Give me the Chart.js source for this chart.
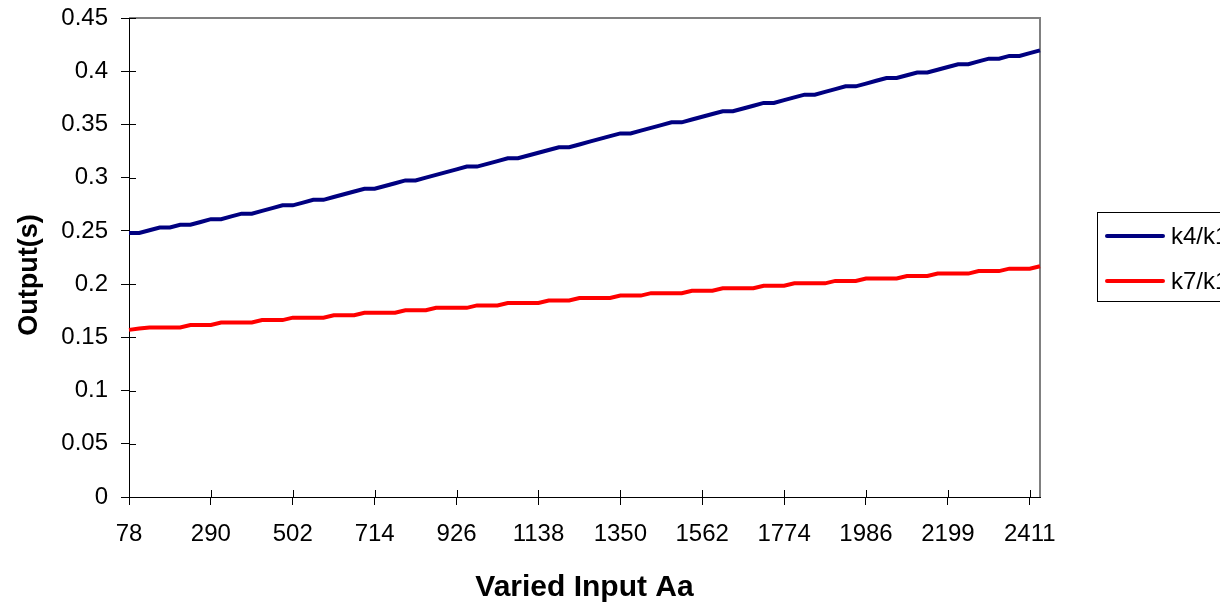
<!DOCTYPE html>
<html>
<head>
<meta charset="utf-8">
<script src="https://cdn.jsdelivr.net/npm/chart.js@4.4.1/dist/chart.umd.min.js"></script>
<style>
  body { margin: 0; background: #fff; }
  #wrap { width: 1220px; height: 603px; }
</style>
</head>
<body>
<div id="wrap"><canvas id="myChart" width="1220" height="603"></canvas></div>
<script>
// x categories (Varied Input Aa), only every 8th is labelled on the axis
const inputAa = [
  78, 105, 131, 158, 184, 211, 237, 264, 290, 317,
  343, 370, 396, 423, 449, 476, 502, 529, 555, 582,
  608, 635, 661, 688, 714, 741, 767, 794, 820, 847,
  873, 900, 926, 953, 979, 1006, 1032, 1059, 1085, 1112,
  1138, 1165, 1191, 1218, 1244, 1271, 1297, 1324, 1350, 1377,
  1403, 1430, 1456, 1483, 1509, 1536, 1562, 1589, 1615, 1642,
  1668, 1695, 1721, 1748, 1774, 1801, 1827, 1854, 1880, 1907,
  1933, 1960, 1986, 2013, 2039, 2066, 2093, 2119, 2146, 2172,
  2199, 2225, 2252, 2278, 2305, 2331, 2358, 2384, 2411, 2437
];

// k4/k1
const k4k1 = [
  0.2480, 0.2480, 0.2506, 0.2532, 0.2532, 0.2558, 0.2558, 0.2584, 0.2610, 0.2610,
  0.2636, 0.2662, 0.2662, 0.2688, 0.2714, 0.2740, 0.2740, 0.2766, 0.2792, 0.2792,
  0.2818, 0.2844, 0.2870, 0.2896, 0.2896, 0.2922, 0.2948, 0.2974, 0.2974, 0.3000,
  0.3026, 0.3052, 0.3078, 0.3104, 0.3104, 0.3130, 0.3156, 0.3182, 0.3182, 0.3208,
  0.3234, 0.3260, 0.3286, 0.3286, 0.3312, 0.3338, 0.3364, 0.3390, 0.3416, 0.3416,
  0.3442, 0.3468, 0.3494, 0.3520, 0.3520, 0.3546, 0.3572, 0.3598, 0.3624, 0.3624,
  0.3650, 0.3676, 0.3702, 0.3702, 0.3728, 0.3754, 0.3780, 0.3780, 0.3806, 0.3832,
  0.3858, 0.3858, 0.3884, 0.3910, 0.3936, 0.3936, 0.3962, 0.3988, 0.3988, 0.4014,
  0.4040, 0.4066, 0.4066, 0.4092, 0.4118, 0.4118, 0.4144, 0.4144, 0.4170, 0.4196
];

// k7/k1
const k7k1 = [
  0.1570, 0.1582, 0.1593, 0.1593, 0.1593, 0.1593, 0.1616, 0.1616, 0.1616, 0.1639,
  0.1639, 0.1639, 0.1639, 0.1662, 0.1662, 0.1662, 0.1685, 0.1685, 0.1685, 0.1685,
  0.1708, 0.1708, 0.1708, 0.1731, 0.1731, 0.1731, 0.1731, 0.1754, 0.1754, 0.1754,
  0.1777, 0.1777, 0.1777, 0.1777, 0.1800, 0.1800, 0.1800, 0.1823, 0.1823, 0.1823,
  0.1823, 0.1846, 0.1846, 0.1846, 0.1869, 0.1869, 0.1869, 0.1869, 0.1892, 0.1892,
  0.1892, 0.1915, 0.1915, 0.1915, 0.1915, 0.1938, 0.1938, 0.1938, 0.1961, 0.1961,
  0.1961, 0.1961, 0.1984, 0.1984, 0.1984, 0.2007, 0.2007, 0.2007, 0.2007, 0.2030,
  0.2030, 0.2030, 0.2053, 0.2053, 0.2053, 0.2053, 0.2076, 0.2076, 0.2076, 0.2099,
  0.2099, 0.2099, 0.2099, 0.2122, 0.2122, 0.2122, 0.2145, 0.2145, 0.2145, 0.2168
];

const seriesNames = ['k4/k1', 'k7/k1'];
const xTitle = 'Varied Input Aa';
const yTitle = 'Output(s)';
const yMax = 0.45;
const yStep = 0.05;

const FONT = '"Liberation Sans", Arial, sans-serif';

// legend with a box, like the Excel one
const boxLegend = {
  id: 'boxLegend',
  afterDraw: (chart) => {
    let ctx = chart.ctx;
    ctx.save();
    ctx.strokeStyle = '#000';
    ctx.lineWidth = 1;
    ctx.strokeRect(1097.5, 212.5, 200, 89);
    chart.data.datasets.forEach((ds, i) => {
      let y = 236 + i * 45;
      ctx.beginPath();
      ctx.moveTo(1107, y);
      ctx.lineTo(1163, y);
      ctx.strokeStyle = ds.borderColor;
      ctx.lineWidth = 4;
      ctx.lineCap = 'round';
      ctx.stroke();
      ctx.fillStyle = '#000';
      ctx.font = '24px ' + FONT;
      ctx.textBaseline = 'middle';
      ctx.fillText(ds.label, 1171, y + 1);
    });
    ctx.restore();
  }
};

// axis titles (placed like Excel did)
const axisTitles = {
  id: 'axisTitles',
  afterDraw: (chart) => {
    let ctx = chart.ctx;
    let a = chart.chartArea;
    ctx.save();
    ctx.fillStyle = '#000';
    ctx.textAlign = 'center';
    ctx.textBaseline = 'middle';
    ctx.font = 'bold 30px ' + FONT;
    ctx.fillText(xTitle, (a.left + a.right) / 2, 588);
    ctx.font = 'bold 27px ' + FONT;
    ctx.translate(30, 275);
    ctx.rotate(-Math.PI / 2);
    ctx.fillText(yTitle, 0, 0);
    ctx.restore();
  }
};

// grey plot border top/right + tick marks crossing the axes
const plotFrame = {
  id: 'plotFrame',
  beforeDatasetsDraw: (chart) => {
    let ctx = chart.ctx;
    let a = chart.chartArea;
    ctx.save();
    ctx.strokeStyle = '#808080';
    ctx.lineWidth = 2;
    ctx.beginPath();
    ctx.moveTo(a.left, a.top);
    ctx.lineTo(a.right, a.top);
    ctx.lineTo(a.right, a.bottom);
    ctx.stroke();

    ctx.strokeStyle = '#000';
    ctx.lineWidth = 1;
    ctx.beginPath();
    chart.scales.y.ticks.forEach((t, i) => {
      let py = Math.round(chart.scales.y.getPixelForTick(i)) + 0.5;
      ctx.moveTo(a.left, py);
      ctx.lineTo(a.left + 7, py);
    });
    chart.scales.x.ticks.forEach((t, i) => {
      let px = Math.round(chart.scales.x.getPixelForTick(i)) + 0.5;
      ctx.moveTo(px, a.bottom);
      ctx.lineTo(px, a.bottom - 7);
    });
    ctx.stroke();
    ctx.restore();
  }
};

var ctx = document.getElementById('myChart').getContext('2d');
let myChart = new Chart(ctx, {
  type: 'line',
  data: {
    labels: inputAa,
    datasets: [{
      label: seriesNames[0],
      data: k4k1,
      borderColor: '#000080',
      borderWidth: 4,
      pointRadius: 0,
      fill: false
    }, {
      label: seriesNames[1],
      data: k7k1,
      borderColor: '#ff0000',
      borderWidth: 4,
      pointRadius: 0,
      fill: false
    }]
  },
  options: {
    responsive: false,
    animation: false,
    layout: {
      padding: { top: 18, right: 180, left: 0, bottom: 0 }
    },
    plugins: {
      legend: { display: false },
      tooltip: { enabled: false }
    },
    scales: {
      x: {
        type: 'category',
        offset: false,
        grid: {
          drawOnChartArea: false,
          color: '#000',
          tickLength: 8
        },
        border: { color: '#000', width: 1 },
        ticks: {
          autoSkip: false,
          maxRotation: 0,
          color: '#000',
          padding: 15,
          font: { family: FONT, size: 24 }
        },
        afterBuildTicks: (scale) => {
          scale.ticks = scale.ticks.filter((t, i) => i % 8 === 0);
        },
        afterFit: (scale) => {
          scale.height = 106;
          scale.paddingLeft = 0;
          scale.paddingRight = 0;
        }
      },
      y: {
        type: 'linear',
        min: 0,
        max: yMax,
        grid: {
          drawOnChartArea: false,
          color: '#000',
          tickLength: 8
        },
        border: { color: '#000', width: 1 },
        ticks: {
          stepSize: yStep,
          color: '#000',
          padding: 13,
          font: { family: FONT, size: 24 },
          callback: (v) => String(+v.toFixed(2))
        },
        afterFit: (scale) => {
          scale.width = 129;
          scale.paddingTop = 0;
          scale.paddingBottom = 0;
        }
      }
    }
  },
  plugins: [plotFrame, axisTitles, boxLegend]
});
</script>
</body>
</html>
